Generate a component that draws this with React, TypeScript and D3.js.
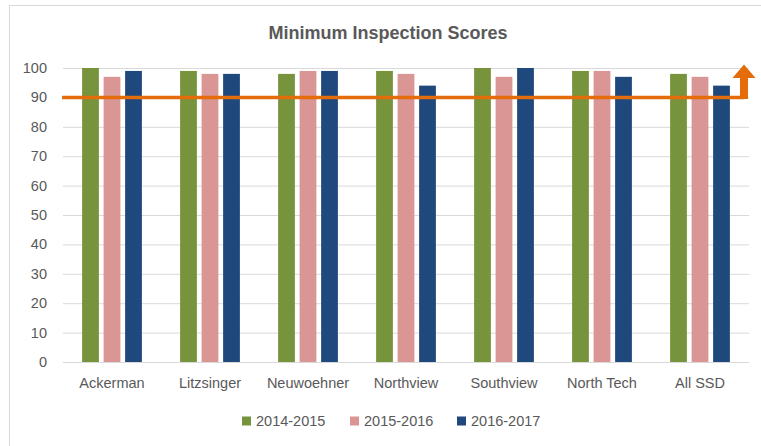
import * as React from "react";
import * as d3 from "d3";

const schools = ["Ackerman", "Litzsinger", "Neuwoehner", "Northview", "Southview", "North Tech", "All SSD"];
const seriesNames = ["2014-2015", "2015-2016", "2016-2017"];
const scores1415 = [100, 99, 98, 99, 100, 99, 98];
const scores1516 = [97, 98, 99, 98, 97, 99, 97];
const scores1617 = [99, 98, 99, 94, 100, 97, 94];
const yTicks = [0, 10, 20, 30, 40, 50, 60, 70, 80, 90, 100];
const target = 90;

const colors = ["#77933C", "#D99694", "#1F497D"];
const textColor = "#595959";
const font = "'Liberation Sans', Arial, sans-serif";

export default function App() {
  const width = 761;
  const height = 446;
  const margin = { top: 68, right: 12, bottom: 84, left: 63 };
  const plotW = width - margin.left - margin.right;
  const plotH = height - margin.top - margin.bottom;

  const x0 = d3.scaleBand().domain(schools).range([0, plotW]).paddingInner(0.39).paddingOuter(0.195);
  const x1 = d3.scaleBand().domain(seriesNames).range([0, x0.bandwidth()]).paddingInner(0.22);
  const y = d3.scaleLinear().domain([0, 100]).range([plotH, 0]);

  const series = [scores1415, scores1516, scores1617];

  // target line ending in an upward arrow near the right edge
  const lineEnd = plotW - 5;
  const arrow = d3.path();
  arrow.moveTo(lineEnd - 4, y(target) + 1.5);
  arrow.lineTo(lineEnd - 4, y(96.6));
  arrow.lineTo(lineEnd - 11.5, y(96.6));
  arrow.lineTo(lineEnd, y(101.2));
  arrow.lineTo(lineEnd + 11.5, y(96.6));
  arrow.lineTo(lineEnd + 4, y(96.6));
  arrow.lineTo(lineEnd + 4, y(target) + 1.5);
  arrow.closePath();

  const legendX = [242, 350, 457];

  return (
    <svg width={width} height={height} style={{ position: "absolute", left: 0, top: 0, fontFamily: font }}>
      <rect x={0} y={0} width={width} height={height} fill="#fff" />
      <rect x={9.5} y={5.5} width={width + 10} height={height + 10} fill="none" stroke="#D9D9D9" />
      <text x={388} y={39} textAnchor="middle" fontSize={18} fontWeight="bold" fill={textColor}>
        Minimum Inspection Scores
      </text>
      <g transform={`translate(${margin.left},${margin.top})`}>
        {yTicks.map((t) => (
          <g key={t}>
            <line x1={0} x2={plotW} y1={y(t) + 0.5} y2={y(t) + 0.5} stroke="#D9D9D9" />
            <text x={-16} y={y(t)} dy="0.35em" textAnchor="end" fontSize={14.5} fill={textColor}>
              {t}
            </text>
          </g>
        ))}
        {schools.map((s, i) => (
          <g key={s} transform={`translate(${x0(s)},0)`}>
            {seriesNames.map((n, j) => (
              <rect
                key={n}
                x={x1(n)}
                y={y(series[j][i])}
                width={x1.bandwidth()}
                height={plotH - y(series[j][i])}
                fill={colors[j]}
              />
            ))}
            <text x={x0.bandwidth() / 2} y={plotH + 26} textAnchor="middle" fontSize={14.5} fill={textColor}>
              {s}
            </text>
          </g>
        ))}
        <line x1={-1} x2={lineEnd} y1={y(target)} y2={y(target)} stroke="#E46C0A" strokeWidth={3.5} />
        <path d={arrow.toString()} fill="#E46C0A" />
      </g>
      {seriesNames.map((n, j) => (
        <g key={n} transform={`translate(${legendX[j]},421)`}>
          <rect x={0} y={-4.5} width={9} height={9} fill={colors[j]} />
          <text x={14} y={0} dy="0.35em" fontSize={14.5} fill={textColor}>
            {n}
          </text>
        </g>
      ))}
    </svg>
  );
}
